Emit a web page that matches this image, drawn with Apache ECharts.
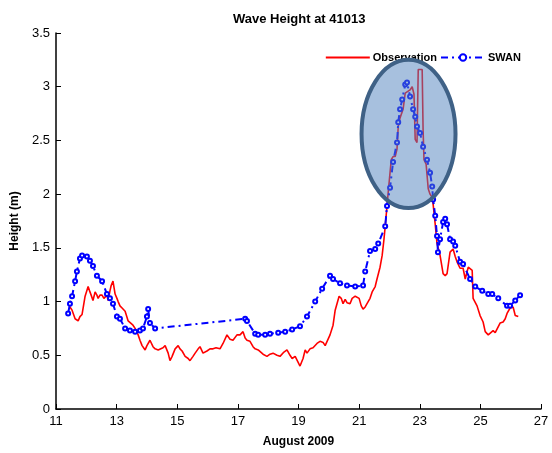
<!DOCTYPE html>
<html>
<head>
<meta charset="utf-8">
<script src="https://cdn.jsdelivr.net/npm/echarts@6/dist/echarts.min.js"></script>
<style>
  html, body { margin: 0; padding: 0; background: #fff; }
  #chart { width: 552px; height: 453px; }
</style>
</head>
<body>
<div id="chart"></div>
<script>
// Observation (buoy 41013), day of August 2009 / wave height (m)
const obsTime = [11.40, 11.46, 11.53, 11.63, 11.73, 11.79, 11.86, 11.96, 12.06, 12.12, 12.16, 12.22, 12.29, 12.35, 12.39, 12.45, 12.52, 12.58, 12.62, 12.68,
  12.72, 12.78, 12.82, 12.88, 12.95, 13.01, 13.05, 13.11, 13.18, 13.28, 13.38, 13.44, 13.54, 13.61, 13.71, 13.77, 13.84, 13.94, 14.00, 14.10,
  14.20, 14.27, 14.37, 14.43, 14.53, 14.60, 14.70, 14.76, 14.83, 14.93, 15.03, 15.09, 15.16, 15.26, 15.36, 15.42, 15.52, 15.59, 15.69, 15.75,
  15.85, 15.98, 16.08, 16.18, 16.28, 16.41, 16.51, 16.64, 16.74, 16.84, 16.97, 17.07, 17.17, 17.24, 17.30, 17.40, 17.50, 17.57, 17.67, 17.73,
  17.83, 17.96, 18.06, 18.16, 18.29, 18.39, 18.52, 18.62, 18.72, 18.79, 18.89, 18.95, 19.05, 19.15, 19.22, 19.28, 19.38, 19.48, 19.61, 19.71,
  19.81, 19.88, 19.94, 20.04, 20.14, 20.21, 20.27, 20.34, 20.41, 20.47, 20.54, 20.60, 20.70, 20.77, 20.87, 20.93, 21.00, 21.07, 21.13, 21.20,
  21.26, 21.36, 21.43, 21.53, 21.59, 21.69, 21.76, 21.82, 21.86, 21.92, 21.96, 22.02, 22.06, 22.12, 22.19, 22.25, 22.29, 22.35, 22.45, 22.52,
  22.58, 22.68, 22.75, 22.81, 22.85, 22.91, 22.95, 23.08, 23.11, 23.14, 23.21, 23.28, 23.34, 23.41, 23.44, 23.51, 23.57, 23.67, 23.77, 23.84,
  23.90, 24.00, 24.10, 24.17, 24.23, 24.33, 24.43, 24.50, 24.60, 24.66, 24.73, 24.76, 24.89, 24.99, 25.09, 25.16, 25.26, 25.32, 25.42, 25.49,
  25.55, 25.65, 25.75, 25.82, 25.88, 25.98, 26.08, 26.15, 26.25];
const obsHeight = [0.98, 0.95, 0.92, 0.84, 0.82, 0.86, 0.88, 1.05, 1.14, 1.09, 1.06, 1.01, 1.09, 1.06, 1.03, 1.06, 1.06, 1.03, 1.04, 1.06,
  1.01, 1.10, 1.15, 1.19, 1.07, 1.03, 1.00, 0.96, 0.94, 0.91, 0.82, 0.81, 0.78, 0.75, 0.69, 0.64, 0.59, 0.55, 0.59, 0.64,
  0.58, 0.56, 0.55, 0.54, 0.57, 0.59, 0.52, 0.45, 0.49, 0.56, 0.59, 0.56, 0.54, 0.49, 0.47, 0.45, 0.49, 0.52, 0.56, 0.58,
  0.52, 0.54, 0.56, 0.56, 0.57, 0.56, 0.61, 0.69, 0.65, 0.64, 0.69, 0.69, 0.72, 0.66, 0.64, 0.63, 0.58, 0.56, 0.55, 0.56,
  0.51, 0.49, 0.51, 0.52, 0.50, 0.49, 0.53, 0.55, 0.50, 0.47, 0.49, 0.49, 0.40, 0.47, 0.55, 0.52, 0.56, 0.57, 0.61, 0.63,
  0.62, 0.59, 0.60, 0.69, 0.78, 0.92, 0.98, 1.05, 1.03, 0.98, 1.02, 0.99, 0.98, 1.03, 1.05, 1.06, 1.03, 0.96, 0.93, 0.95,
  0.98, 1.03, 1.09, 1.14, 1.21, 1.32, 1.43, 1.58, 1.70, 1.89, 2.02, 2.20, 2.32, 2.35, 2.35, 2.42, 2.63, 2.71, 2.79, 2.94,
  2.93, 2.97, 3.00, 2.93, 2.51, 2.48, 3.16, 3.16, 2.60, 2.32, 2.28, 2.05, 2.00, 1.97, 1.91, 1.72, 1.54, 1.43, 1.26, 1.24,
  1.26, 1.46, 1.49, 1.42, 1.37, 1.31, 1.31, 1.21, 1.32, 1.32, 1.29, 1.03, 0.96, 0.87, 0.81, 0.72, 0.69, 0.70, 0.73, 0.71,
  0.72, 0.80, 0.81, 0.84, 0.89, 0.94, 0.95, 0.87, 0.86];

// SWAN model output
const swanTime = [11.40, 11.46, 11.53, 11.63, 11.69, 11.79, 11.86, 12.02, 12.12, 12.22, 12.35, 12.52, 12.68, 12.78, 12.88, 13.01, 13.11, 13.28, 13.44, 13.61,
  13.77, 13.87, 14.00, 14.04, 14.10, 14.27, 17.24, 17.30, 17.57, 17.67, 17.90, 18.06, 18.33, 18.56, 18.79, 19.05, 19.28, 19.55, 19.78,
  20.04, 20.14, 20.37, 20.60, 20.87, 21.13, 21.20, 21.36, 21.53, 21.63, 21.86, 21.92, 22.02, 22.12, 22.25, 22.29, 22.35, 22.42, 22.52, 22.58,
  22.68, 22.78, 22.85, 22.91, 23.01, 23.11, 23.24, 23.34, 23.41, 23.44, 23.51, 23.57, 23.60, 23.67, 23.77, 23.84, 23.90, 24.00, 24.10, 24.17,
  24.33, 24.43, 24.66, 24.83, 25.06, 25.26, 25.39, 25.59, 25.88, 25.98, 26.15, 26.31];
const swanHeight = [0.89, 0.98, 1.05, 1.19, 1.28, 1.40, 1.43, 1.42, 1.38, 1.33, 1.24, 1.19, 1.07, 1.03, 0.98, 0.86, 0.84, 0.75, 0.73, 0.72,
  0.73, 0.75, 0.86, 0.93, 0.80, 0.75, 0.84, 0.82, 0.70, 0.69, 0.69, 0.70, 0.71, 0.72, 0.74, 0.77, 0.86, 1.00, 1.12,
  1.24, 1.21, 1.17, 1.15, 1.14, 1.15, 1.28, 1.47, 1.49, 1.54, 1.70, 1.89, 2.06, 2.30, 2.48, 2.67, 2.79, 2.88, 3.02, 3.04,
  2.91, 2.79, 2.72, 2.63, 2.57, 2.44, 2.32, 2.20, 2.07, 1.95, 1.80, 1.61, 1.46, 1.58, 1.74, 1.77, 1.72, 1.58, 1.56, 1.52,
  1.37, 1.35, 1.21, 1.14, 1.10, 1.07, 1.07, 1.03, 0.96, 0.96, 1.01, 1.06];

const yTicks = ['0', '0.5', '1', '1.5', '2', '2.5', '3', '3.5'];
// highlighted storm peak (centre day, centre height, half width in days, half height in m)
const peakEllipse = [22.63, 2.56, 1.55, 0.69];

const chart = echarts.init(document.getElementById('chart'));
const font = 'Liberation Sans, Arial, sans-serif';

chart.setOption({
  animation: false,
  title: {
    text: 'Wave Height at 41013',
    left: 228,
    top: 8,
    textStyle: { fontFamily: font, fontSize: 13, fontWeight: 'bold', color: '#000' }
  },
  legend: {
    right: 26,
    top: 47,
    itemWidth: 44,
    itemHeight: 8,
    itemGap: 3,
    textStyle: { fontFamily: font, fontSize: 11, fontWeight: 'bold', color: '#000', padding: [0, 0, 0, -2] },
    data: [
      { name: 'Observation', itemStyle: { opacity: 0 } },
      'SWAN'
    ]
  },
  grid: { left: 56, right: 11, top: 33, bottom: 42 },
  xAxis: {
    type: 'value',
    min: 11,
    max: 27,
    interval: 2,
    name: 'August 2009',
    nameLocation: 'middle',
    nameGap: 27,
    nameTextStyle: { fontFamily: font, fontSize: 12, fontWeight: 'bold', color: '#000' },
    axisLine: { lineStyle: { color: '#000', width: 1.5 } },
    axisTick: { inside: true, length: 5, lineStyle: { color: '#000' } },
    axisLabel: { fontFamily: font, fontSize: 13, color: '#000', margin: 6 },
    splitLine: { show: false }
  },
  yAxis: {
    type: 'value',
    min: 0,
    max: 3.5,
    interval: 0.5,
    name: 'Height (m)',
    nameLocation: 'middle',
    nameGap: 31,
    nameTextStyle: { fontFamily: font, fontSize: 12, fontWeight: 'bold', color: '#000' },
    axisLine: { show: true, lineStyle: { color: '#000', width: 1.5 } },
    axisTick: { show: true, inside: true, length: 5, lineStyle: { color: '#000' } },
    axisLabel: {
      fontFamily: font, fontSize: 13, color: '#000', margin: 6,
      formatter: (v) => yTicks[Math.round(v * 2)]
    },
    splitLine: { show: false }
  },
  series: [
    {
      name: 'Observation',
      type: 'line',
      data: obsTime.map((t, i) => [t, obsHeight[i]]),
      symbol: 'none',
      lineStyle: { color: '#ff0000', width: 1.6 },
      itemStyle: { color: '#ff0000' },
      z: 2
    },
    {
      name: 'SWAN',
      type: 'line',
      data: swanTime.map((t, i) => [t, swanHeight[i]]),
      symbol: 'emptyCircle',
      symbolSize: 4,
      showAllSymbol: true,
      lineStyle: { color: '#0000ff', width: 2, type: [7, 4, 2, 4] },
      itemStyle: { color: '#0000ff', borderWidth: 1.2 },
      z: 3
    }
  ]
});

// ellipse highlighting the peak, placed through the axis scales
const c = chart.convertToPixel({ gridIndex: 0 }, [peakEllipse[0], peakEllipse[1]]);
const e = chart.convertToPixel({ gridIndex: 0 }, [peakEllipse[0] + peakEllipse[2], peakEllipse[1] + peakEllipse[3]]);
chart.setOption({
  graphic: [{
    type: 'ellipse',
    z: 100,
    shape: { cx: c[0], cy: c[1], rx: e[0] - c[0], ry: c[1] - e[1] },
    style: { fill: 'rgba(79,129,189,0.5)', stroke: '#3f6186', lineWidth: 4 }
  }]
});
</script>
</body>
</html>
